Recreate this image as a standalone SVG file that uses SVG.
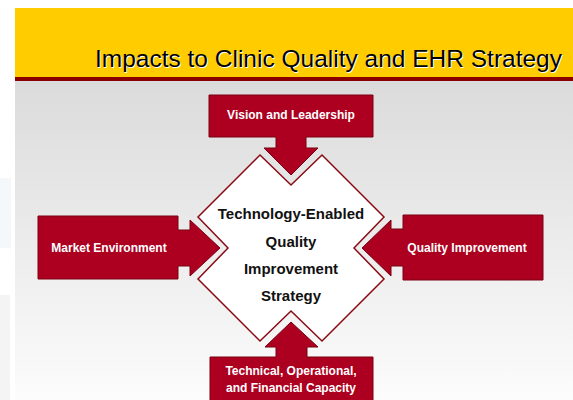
<svg xmlns="http://www.w3.org/2000/svg" width="573" height="400" viewBox="0 0 573 400">
  <defs>
    <linearGradient id="bg" x1="0" y1="0" x2="0" y2="1">
      <stop offset="0" stop-color="#DBDBDB"/>
      <stop offset="1" stop-color="#FCFCFC"/>
    </linearGradient>
    <style>
      .arrow { fill: #AD0020; stroke: #7A0010; stroke-width: 1; }
      .alabel { font-family: "Liberation Sans", Arial, sans-serif; font-weight: bold; font-size: 12px; fill: #FFFFFF; text-anchor: middle; }
      .dlabel { font-family: "Liberation Sans", Arial, sans-serif; font-weight: bold; font-size: 15px; fill: #111111; text-anchor: middle; }
      .title { font-family: "Liberation Sans", Arial, sans-serif; font-size: 24.5px; text-anchor: end; }
    </style>
  </defs>

  <!-- page background -->
  <rect x="0" y="0" width="573" height="400" fill="#FFFFFF"/>
  <rect x="15" y="81" width="558" height="319" fill="url(#bg)"/>
  <!-- faint left-edge ghost -->
  <rect x="0" y="178" width="11" height="70" fill="#F4F8FA"/>
  <rect x="0" y="295" width="10" height="105" fill="#F4F4F4"/>

  <!-- header -->
  <g id="header">
    <rect x="15" y="8" width="558" height="69" fill="#FFCC00"/>
    <rect x="15" y="77" width="558" height="4" fill="#880000"/>
    <text class="title" x="563" y="68" fill="#FFFFFF">Impacts to Clinic Quality and EHR Strategy</text>
    <text class="title" x="562" y="67" fill="#000000">Impacts to Clinic Quality and EHR Strategy</text>
  </g>

  <!-- central diamond -->
  <g id="strategy">
    <path d="M260,155 L291,185 L322,155 L384,217 L354,248 L384,279 L322,341 L291,311 L260,341 L198,279 L228,248 L198,217 Z" fill="#FFFFFF" stroke="#8A0A14" stroke-width="1.5" stroke-linejoin="miter"/>
    <text class="dlabel" x="291" y="219">Technology-Enabled</text>
    <text class="dlabel" x="291" y="247">Quality</text>
    <text class="dlabel" x="291" y="274">Improvement</text>
    <text class="dlabel" x="291" y="301">Strategy</text>
  </g>

  <g id="connectors"></g>

  <!-- top arrow -->
  <g id="vision">
    <path class="arrow" d="M209,95 H373 V137 H306 V148 H318 L291,175 L264,148 H276 V137 H209 Z"/>
    <text class="alabel" x="291" y="119">Vision and Leadership</text>
  </g>

  <!-- left arrow -->
  <g id="market">
    <path class="arrow" d="M38,216 H178 V230 H190 V220 L220,248 L190,276 V266 H178 V279 H38 Z"/>
    <text class="alabel" x="109" y="252">Market Environment</text>
  </g>

  <!-- right arrow -->
  <g id="quality">
    <path class="arrow" d="M543,215 H403 V229 H391 V220 L362,248 L391,276 V266 H403 V280 H543 Z"/>
    <text class="alabel" x="467" y="252">Quality Improvement</text>
  </g>

  <!-- bottom arrow -->
  <g id="capacity">
    <path class="arrow" d="M210,402 V357 H276 V347 H265 L291,322 L318,347 H307 V357 H373 V402 Z"/>
    <text class="alabel" x="291" y="375">Technical, Operational,</text>
    <text class="alabel" x="291" y="392">and Financial Capacity</text>
  </g>
</svg>
